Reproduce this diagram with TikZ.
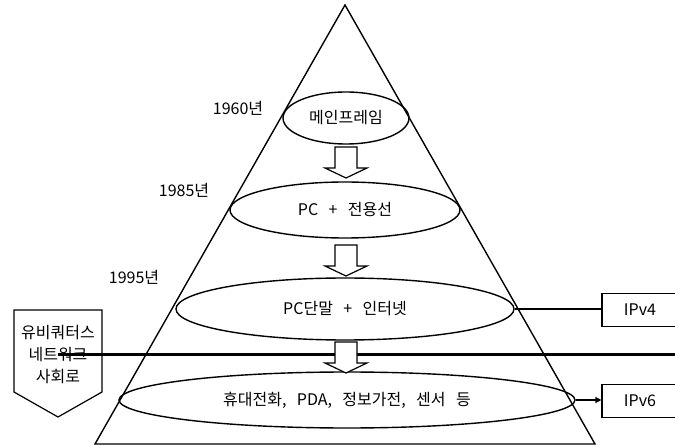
\documentclass[tikz,border=0pt]{standalone}
\usepackage{fontspec}
\setmainfont{Noto Sans CJK KR}
\usetikzlibrary{shapes.geometric,arrows.meta}
\newcommand\kfont{\fontsize{16}{18}\selectfont\spaceskip=0.65em\relax}
\begin{document}
\begin{tikzpicture}[x=1pt,y=-1pt,
  txt/.style={inner sep=0pt, font=\kfont},
  era/.style={draw, ellipse, line width=1.4pt, inner sep=0pt, font=\kfont},
  ipbox/.style={draw, rectangle, line width=1.2pt, minimum width=76pt, minimum height=33pt, inner sep=0pt, font=\kfont},
  blockarrow/.style={draw, fill=white, line width=1.2pt, line join=miter},
  heavy/.style={line width=3pt},
  link/.style={line width=2.4pt}
]
\useasboundingbox (0,0) rectangle (675,446);
\clip (0,0) rectangle (675,446);

% pyramid
\draw[line width=1.4pt, line join=miter] (345,5) -- (595,444) -- (95,444) -- cycle;

% eras
\node[era, minimum width=126pt, minimum height=52pt] (e1) at (346,118) {메인프레임};
\node[era, minimum width=230pt, minimum height=56pt] (e2) at (345,210) {PC + 전용선};
\node[era, minimum width=338pt, minimum height=62pt] (e3) at (345,309) {PC단말 + 인터넷};
\node[era, minimum width=456pt, minimum height=56pt] (e4) at (347,400) {휴대전화, PDA, 정보가전, 센서 등};

% years
\node[txt] (y1) at (238,108) {1960년};
\node[txt] (y2) at (184,190) {1985년};
\node[txt] (y3) at (134,277) {1995년};

% society box
\draw[line width=1.2pt, line join=miter] (14,310) -- (102,310) -- (102,392) -- (58,417) -- (14,392) -- cycle;
\node[txt, align=center, font=\fontsize{16}{22}\selectfont] (soc) at (58,355) {유비쿼터스\\네트워크\\사회로};

% horizontal divider
\coordinate (divL) at (58,355);
\coordinate (divR) at (676,355);
\draw[heavy] (divL) -- (divR);

% block arrows
\foreach \t in {147,245,342}{
  \draw[blockarrow] (335,\t) -- (357,\t) -- (357,\t+21) -- (367,\t+21) -- (346,\t+31) -- (325,\t+21) -- (335,\t+21) -- cycle;
}

% IP boxes
\node[ipbox] (ip4) at (640,310) {IPv4};
\node[ipbox] (ip6) at (640,401) {IPv6};
\draw[link] (e3.east) -- (e3.east -| ip4.west);
\draw[link, -{Triangle[length=6pt,width=6pt]}] (e4.east) -- (e4.east -| ip6.west);
\end{tikzpicture}
\end{document}
